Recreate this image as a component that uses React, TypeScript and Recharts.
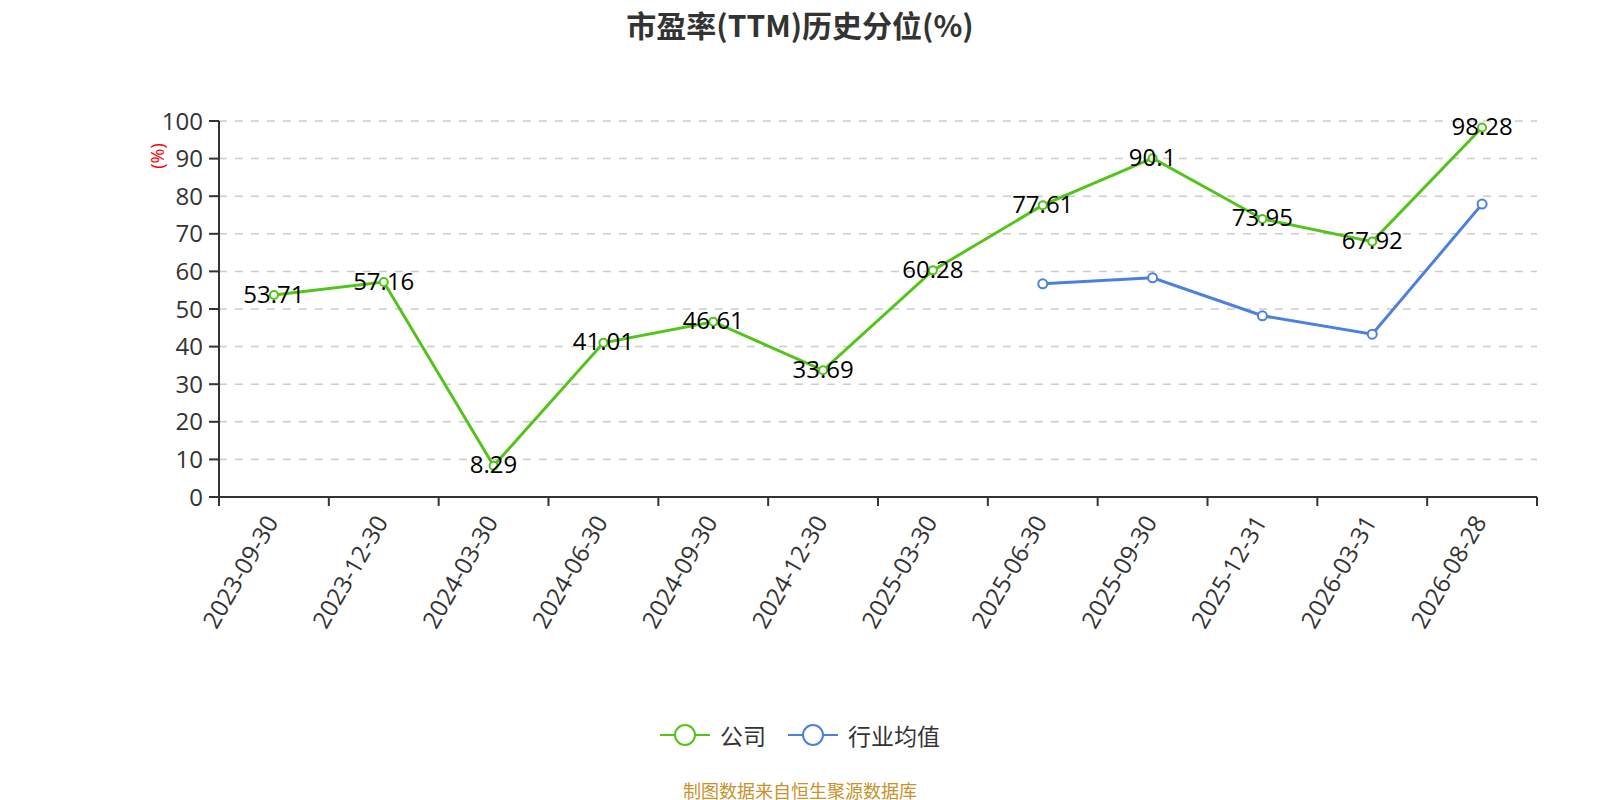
import React from "react";
import {
  LineChart,
  Line,
  XAxis,
  YAxis,
  CartesianGrid,
  LabelList,
} from "recharts";

const categories = [
  "2023-09-30", "2023-12-30", "2024-03-30", "2024-06-30", "2024-09-30", "2024-12-30",
  "2025-03-30", "2025-06-30", "2025-09-30", "2025-12-31", "2026-03-31", "2026-08-28",
];
const company = [53.71, 57.16, 8.29, 41.01, 46.61, 33.69, 60.28, 77.61, 90.1, 73.95, 67.92, 98.28];
const industry = [null, null, null, null, null, null, null, 56.7, 58.3, 48.2, 43.3, 77.9];
const yTicks = [0, 10, 20, 30, 40, 50, 60, 70, 80, 90, 100];

const rows = categories.map((name, i) => ({ name, company: company[i], industry: industry[i] }));

const W = 1600;
const H = 800;
const LEFT = 219;
const RIGHT = 63;
const TOP = 121;
const AXIS_Y = 497;
const X_AXIS_H = 120;
const BAND = (W - LEFT - RIGHT) / categories.length;

const GREEN = "#52c41a";
const BLUE = "#4c80e0";
const TEXT = "#333";
const FONT = "'Open Sans', 'Noto Sans CJK SC', sans-serif";

const XTick = (props: any) => {
  const { x, y, payload, index } = props;
  const last = index === categories.length - 1;
  return (
    <g>
      <line x1={x - BAND / 2} x2={x - BAND / 2} y1={y} y2={y + 9} stroke={TEXT} strokeWidth={2} />
      {last ? <line x1={x + BAND / 2} x2={x + BAND / 2} y1={y} y2={y + 9} stroke={TEXT} strokeWidth={2} /> : null}
      <text
        x={0}
        y={0}
        transform={`translate(${x - 3},${y + 20}) rotate(-60)`}
        textAnchor="end"
        dominantBaseline="central"
        fontSize={24}
        fontFamily={FONT}
        fill={TEXT}
      >
        {payload.value}
      </text>
    </g>
  );
};

const PointLabel = (props: any) => {
  const { x, y, value } = props;
  if (value == null) return null;
  return (
    <text x={x} y={y - 2} textAnchor="middle" dominantBaseline="central" fontSize={24} fontFamily={FONT} fill="#000">
      {value}
    </text>
  );
};

const legendItems = [
  { label: "公司", color: GREEN },
  { label: "行业均值", color: BLUE },
];

export default function App() {
  return (
    <div style={{ position: "absolute", left: 0, top: 0, width: W, height: H, background: "#fff", fontFamily: FONT }}>
      <div
        style={{
          position: "absolute",
          top: 2,
          left: 0,
          width: W,
          textAlign: "center",
          fontSize: 30,
          fontWeight: 700,
          color: TEXT,
          fontFamily: "'Noto Sans CJK SC', sans-serif",
        }}
      >
        市盈率(TTM)历史分位(%)
      </div>
      <div
        style={{
          position: "absolute",
          left: 157 - 30,
          top: 156 - 12,
          width: 60,
          height: 24,
          lineHeight: "24px",
          textAlign: "center",
          transform: "rotate(-90deg)",
          fontSize: 18,
          color: "red",
        }}
      >
        (%)
      </div>
      <LineChart
        width={W}
        height={H}
        data={rows}
        margin={{ top: TOP, right: RIGHT, left: 0, bottom: H - AXIS_Y - X_AXIS_H }}
      >
        <CartesianGrid vertical={false} stroke="#ccc" strokeWidth={1.5} strokeDasharray="8 8" />
        <XAxis
          dataKey="name"
          scale="band"
          height={X_AXIS_H}
          interval={0}
          tickSize={0}
          tickMargin={0}
          tickLine={false}
          axisLine={{ stroke: TEXT, strokeWidth: 2 }}
          tick={<XTick />}
        />
        <YAxis
          width={LEFT}
          domain={[0, 100]}
          ticks={yTicks}
          interval={0}
          tickSize={10}
          tickMargin={6}
          axisLine={{ stroke: TEXT, strokeWidth: 2 }}
          tickLine={{ stroke: TEXT, strokeWidth: 2 }}
          tick={{ fill: TEXT, fontSize: 24, fontFamily: FONT }}
        />
        <Line
          dataKey="company"
          name="公司"
          stroke={GREEN}
          strokeWidth={3}
          dot={{ r: 4, fill: "#fff", stroke: GREEN, strokeWidth: 2 }}
          isAnimationActive={false}
        >
          <LabelList dataKey="company" content={<PointLabel />} />
        </Line>
        <Line
          dataKey="industry"
          name="行业均值"
          stroke={BLUE}
          strokeWidth={3}
          dot={{ r: 4.5, fill: "#fff", stroke: BLUE, strokeWidth: 2 }}
          isAnimationActive={false}
        />
      </LineChart>
      <div
        style={{
          position: "absolute",
          top: 718,
          left: 0,
          width: W,
          display: "flex",
          justifyContent: "center",
          alignItems: "center",
          gap: 22,
        }}
      >
        {legendItems.map((it) => (
          <div key={it.label} style={{ display: "flex", alignItems: "center", gap: 10 }}>
            <svg width={50} height={26}>
              <line x1={0} x2={50} y1={13} y2={13} stroke={it.color} strokeWidth={2} />
              <circle cx={25} cy={13} r={10} fill="#fff" stroke={it.color} strokeWidth={2} />
            </svg>
            <span style={{ fontSize: 23, color: TEXT, fontFamily: "'Noto Sans CJK SC', sans-serif" }}>{it.label}</span>
          </div>
        ))}
      </div>
      <div
        style={{
          position: "absolute",
          top: 778,
          left: 0,
          width: W,
          textAlign: "center",
          fontSize: 18,
          lineHeight: "24px",
          color: "#c8922a",
          fontFamily: "'Noto Sans CJK SC', sans-serif",
        }}
      >
        制图数据来自恒生聚源数据库
      </div>
    </div>
  );
}
